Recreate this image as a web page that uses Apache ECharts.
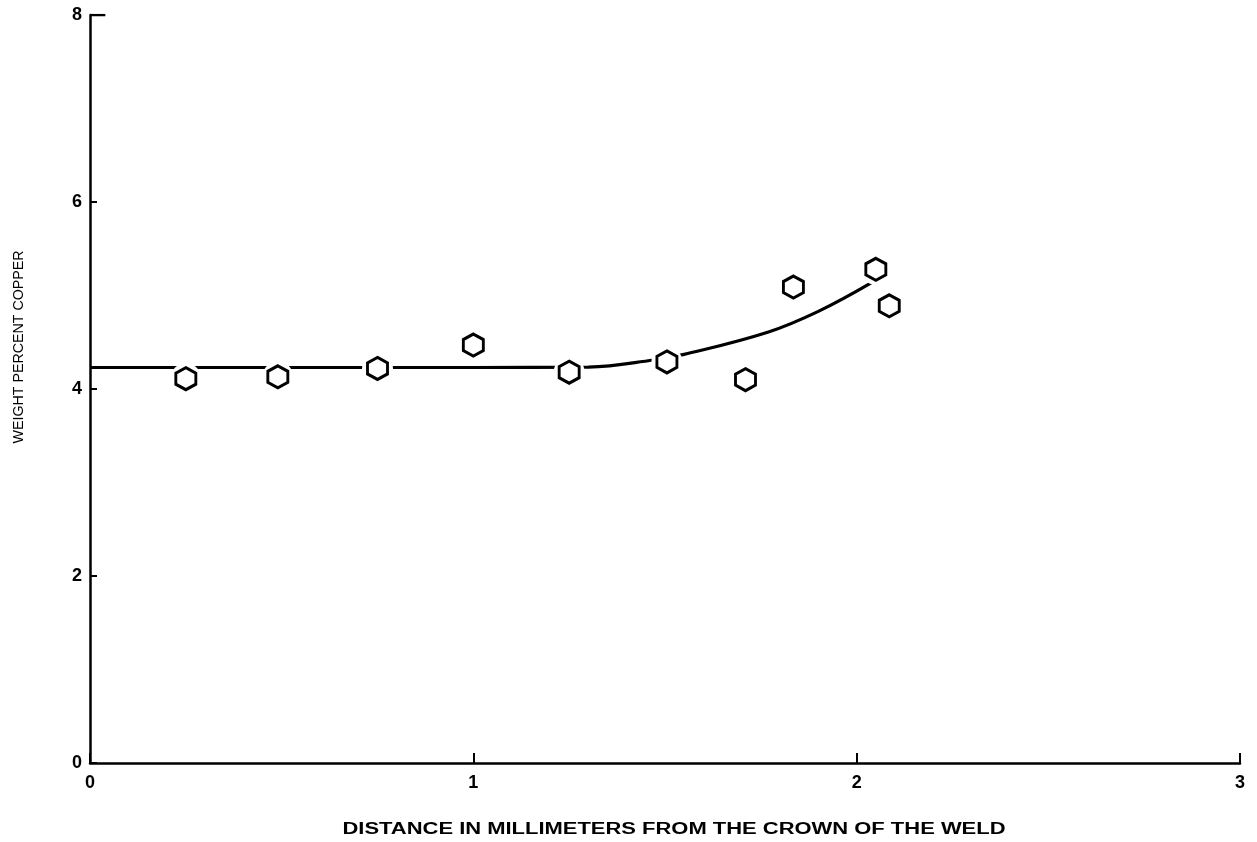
<!DOCTYPE html>
<html>
<head>
<meta charset="utf-8">
<script src="https://cdn.jsdelivr.net/npm/echarts@6/dist/echarts.min.js"></script>
<style>html,body{margin:0;padding:0;background:#fff}#c{width:1257px;height:842px}</style>
</head>
<body>
<div id="c"></div>
<script>
const pointX = [0.25, 0.49, 0.75, 1.0, 1.25, 1.505, 1.71, 1.835, 2.05, 2.085];
const pointY = [4.11, 4.13, 4.22, 4.47, 4.18, 4.29, 4.10, 5.09, 5.28, 4.89];
const curveX = [0, 0.5, 1.0, 1.3, 1.47, 1.55, 1.77, 1.9, 2.04];
const curveY = [4.23, 4.23, 4.23, 4.235, 4.31, 4.37, 4.61, 4.83, 5.14];
const xTicks = [0, 1, 2, 3];
const yTicks = [0, 2, 4, 6, 8];
const xTitle = 'DISTANCE IN MILLIMETERS FROM THE CROWN OF THE WELD';
const yTitle = 'WEIGHT PERCENT COPPER';

const hex = 'path://M0,-10 L8.66,-5 L8.66,5 L0,10 L-8.66,5 L-8.66,-5 Z';
const pts = pointX.map((x, i) => [x, pointY[i]]);
const curve = curveX.map((x, i) => [x, curveY[i]]);
const font = 'Liberation Sans, Arial, Helvetica, sans-serif';
const xTitleFont = 'bold 16px ' + font;
const yTitleFont = '15.5px ' + font;

// stretch the titles to the reference's widths
const cv = document.createElement('canvas').getContext('2d');
cv.font = xTitleFont;
const xTitleScale = 663 / cv.measureText(xTitle).width;
cv.font = yTitleFont;
const yTitleScale = 193 / cv.measureText(yTitle).width;

const chart = echarts.init(document.getElementById('c'));
chart.setOption({
  animation: false,
  backgroundColor: '#fff',
  grid: { left: 90, right: 17, top: 15, bottom: 79 },
  xAxis: {
    type: 'value', min: 0, max: 3, interval: 1,
    axisLine: { lineStyle: { color: '#000', width: 2.5 } },
    axisTick: { inside: true, length: 10, lineStyle: { color: '#000', width: 2 } },
    axisLabel: { color: '#000', fontSize: 18, fontWeight: 'bold', fontFamily: font, margin: 11,
      formatter: v => xTicks.includes(v) ? String(v) : '' },
    splitLine: { show: false }
  },
  yAxis: {
    type: 'value', min: 0, max: 8, interval: 2,
    axisLine: { lineStyle: { color: '#000', width: 2.5 } },
    axisTick: { inside: true, length: 7, lineStyle: { color: '#000', width: 2 } },
    axisLabel: { color: '#000', fontSize: 18, fontWeight: 'bold', fontFamily: font, margin: 8,
      formatter: v => yTicks.includes(v) ? String(v) : '' },
    splitLine: { show: false }
  },
  graphic: [
    { type: 'text', x: 674, y: 830, scaleX: xTitleScale,
      style: { text: xTitle, fill: '#000', font: xTitleFont, align: 'center', verticalAlign: 'middle' } },
    { type: 'text', x: 19, y: 347, rotation: Math.PI / 2, scaleX: yTitleScale,
      style: { text: yTitle, fill: '#000', font: yTitleFont, align: 'center', verticalAlign: 'middle' } }
  ],
  series: [
    { type: 'line', data: curve, smooth: 0.4, showSymbol: false, z: 2,
      lineStyle: { color: '#000', width: 3.2 } },
    { type: 'scatter', data: pts, symbol: 'circle', symbolSize: 31, z: 3,
      itemStyle: { color: '#fff', opacity: 1 } },
    { type: 'scatter', data: pts, symbol: hex, symbolSize: [20, 22], z: 4,
      itemStyle: { color: '#fff', borderColor: '#000', borderWidth: 3, opacity: 1 } },
    { type: 'line', data: [[0, 8], [0.04, 8]], showSymbol: false, z: 5,
      lineStyle: { color: '#000', width: 2.5 } }
  ]
});
</script>
</body>
</html>
